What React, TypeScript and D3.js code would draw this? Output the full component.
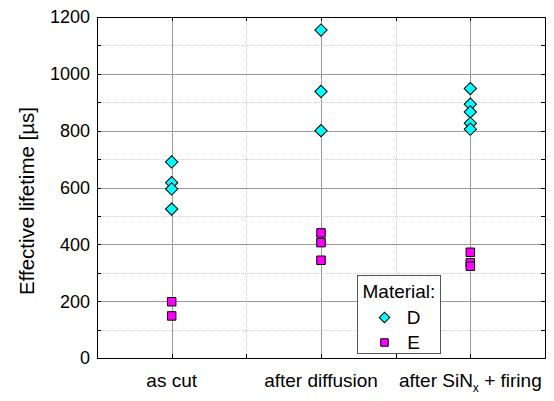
import React, { useEffect, useRef } from 'react';
import * as d3 from 'd3';

// steps along the x axis
const categories = ['as cut', 'after diffusion', 'after SiNx + firing'];

// material D, effective lifetime in µs per step
const seriesD = [
  [690, 617, 595, 524],
  [1154, 938, 800],
  [948, 893, 866, 826, 805],
];

// material E
const seriesE = [
  [198, 148],
  [440, 406, 344],
  [372, 335, 323],
];

const yTicks = [0, 200, 400, 600, 800, 1000, 1200];
const yMinor = [100, 300, 500, 700, 900, 1100];
const xMinor = [1.5, 2.5];

const cyan = '#00ffff';
const magenta = '#ff00ff';

function App() {
  const ref = useRef<SVGSVGElement | null>(null);

  useEffect(() => {
    if (!ref.current) return;
    const svg = d3.select(ref.current);
    svg.selectAll('*').remove();

    const width = 554;
    const height = 401;
    const margin = { top: 17, right: 9, bottom: 43, left: 97 };
    const w = width - margin.left - margin.right;
    const h = height - margin.top - margin.bottom;
    const font = 'Liberation Sans, Arial, sans-serif';

    const x = d3.scaleLinear().domain([0.5, 3.5]).range([0, w]);
    const y = d3.scaleLinear().domain([0, 1200]).range([h, 0]);

    const g = svg.append('g').attr('transform', `translate(${margin.left},${margin.top})`);

    // minor grid (dotted)
    g.selectAll('.ymin')
      .data(yMinor)
      .enter()
      .append('line')
      .attr('x1', 0)
      .attr('x2', w)
      .attr('y1', d => Math.round(y(d)) + 0.5)
      .attr('y2', d => Math.round(y(d)) + 0.5)
      .attr('stroke', '#d0d0d0')
      .attr('stroke-dasharray', '1,1');
    g.selectAll('.xmin')
      .data(xMinor)
      .enter()
      .append('line')
      .attr('y1', 0)
      .attr('y2', h)
      .attr('x1', d => Math.round(x(d)) + 0.5)
      .attr('x2', d => Math.round(x(d)) + 0.5)
      .attr('stroke', '#d0d0d0')
      .attr('stroke-dasharray', '1,1');

    // major grid (solid gray)
    g.selectAll('.ymaj')
      .data(yTicks.slice(1, -1))
      .enter()
      .append('line')
      .attr('x1', 0)
      .attr('x2', w)
      .attr('y1', d => Math.round(y(d)) + 0.5)
      .attr('y2', d => Math.round(y(d)) + 0.5)
      .attr('stroke', '#999');
    g.selectAll('.xmaj')
      .data(categories)
      .enter()
      .append('line')
      .attr('y1', 0)
      .attr('y2', h)
      .attr('x1', (_, i) => Math.round(x(i + 1)) + 0.5)
      .attr('x2', (_, i) => Math.round(x(i + 1)) + 0.5)
      .attr('stroke', '#999');

    // inward ticks on all four sides
    const allY = [...yTicks, ...yMinor];
    const allX = [1, 2, 3, ...xMinor];
    allY.forEach(v => {
      const yy = Math.round(y(v)) + 0.5;
      g.append('line').attr('x1', 0).attr('x2', 4).attr('y1', yy).attr('y2', yy).attr('stroke', '#000');
      g.append('line').attr('x1', w - 4).attr('x2', w).attr('y1', yy).attr('y2', yy).attr('stroke', '#000');
    });
    allX.forEach(v => {
      const xx = Math.round(x(v)) + 0.5;
      g.append('line').attr('x1', xx).attr('x2', xx).attr('y1', h - 4).attr('y2', h).attr('stroke', '#000');
      g.append('line').attr('x1', xx).attr('x2', xx).attr('y1', 0).attr('y2', 4).attr('stroke', '#000');
    });

    // frame
    g.append('rect')
      .attr('x', 0.5)
      .attr('y', 0.5)
      .attr('width', w)
      .attr('height', h)
      .attr('fill', 'none')
      .attr('stroke', '#000');

    // y tick labels
    g.selectAll('.ylab')
      .data(yTicks)
      .enter()
      .append('text')
      .attr('x', -7)
      .attr('y', d => y(d))
      .attr('dy', '0.36em')
      .attr('text-anchor', 'end')
      .style('font-family', font)
      .style('font-size', '18px')
      .text(d => d);

    // x category labels
    categories.forEach((c, i) => {
      const t = g
        .append('text')
        .attr('x', x(i + 1))
        .attr('y', h + 29)
        .attr('text-anchor', 'middle')
        .style('font-family', font)
        .style('font-size', '19px');
      if (c.includes('SiNx')) {
        t.append('tspan').text('after SiN');
        t.append('tspan').attr('dy', 5).style('font-size', '12px').text('x');
        t.append('tspan').attr('dy', -5).text(' + firing');
      } else {
        t.text(c);
      }
    });

    // y axis title
    svg
      .append('text')
      .attr('transform', `translate(34,201) rotate(-90)`)
      .attr('text-anchor', 'middle')
      .style('font-family', font)
      .style('font-size', '20.5px')
      .text('Effective lifetime [µs]');

    const diamond = d3.symbol().type(d3.symbolSquare).size(76);
    const square = d3.symbol().type(d3.symbolSquare).size(72);

    // material D points
    seriesD.forEach((vals, i) => {
      vals.forEach(v => {
        g.append('path')
          .attr('d', diamond())
          .attr('transform', `translate(${x(i + 1)},${y(v)}) rotate(45)`)
          .attr('fill', cyan)
          .attr('stroke', '#000')
          .attr('stroke-width', 1);
      });
    });

    // material E points
    seriesE.forEach((vals, i) => {
      vals.forEach(v => {
        g.append('path')
          .attr('d', square())
          .attr('transform', `translate(${x(i + 1)},${y(v)})`)
          .attr('fill', magenta)
          .attr('stroke', '#000')
          .attr('stroke-width', 1);
      });
    });

    // legend
    const lg = svg.append('g').attr('transform', 'translate(357.5,275.5)');
    lg.append('rect')
      .attr('width', 83)
      .attr('height', 78)
      .attr('fill', '#fff')
      .attr('stroke', '#555');
    lg.append('text')
      .attr('x', 5)
      .attr('y', 22)
      .style('font-family', font)
      .style('font-size', '19px')
      .text('Material:');
    const legendItems = [
      { label: 'D', fill: cyan, rot: 45, cy: 42 },
      { label: 'E', fill: magenta, rot: 0, cy: 67 },
    ];
    legendItems.forEach(it => {
      lg.append('path')
        .attr('d', d3.symbol().type(d3.symbolSquare).size(56)())
        .attr('transform', `translate(27,${it.cy}) rotate(${it.rot})`)
        .attr('fill', it.fill)
        .attr('stroke', '#000');
      lg.append('text')
        .attr('x', 56)
        .attr('y', it.cy)
        .attr('dy', '0.36em')
        .attr('text-anchor', 'middle')
        .style('font-family', font)
        .style('font-size', '19px')
        .text(it.label);
    });
  }, []);

  return (
    <div style={{ position: 'absolute', left: 0, top: 0 }}>
      <svg ref={ref} width={554} height={401} style={{ display: 'block', background: '#fff' }} />
    </div>
  );
}

export default App;
